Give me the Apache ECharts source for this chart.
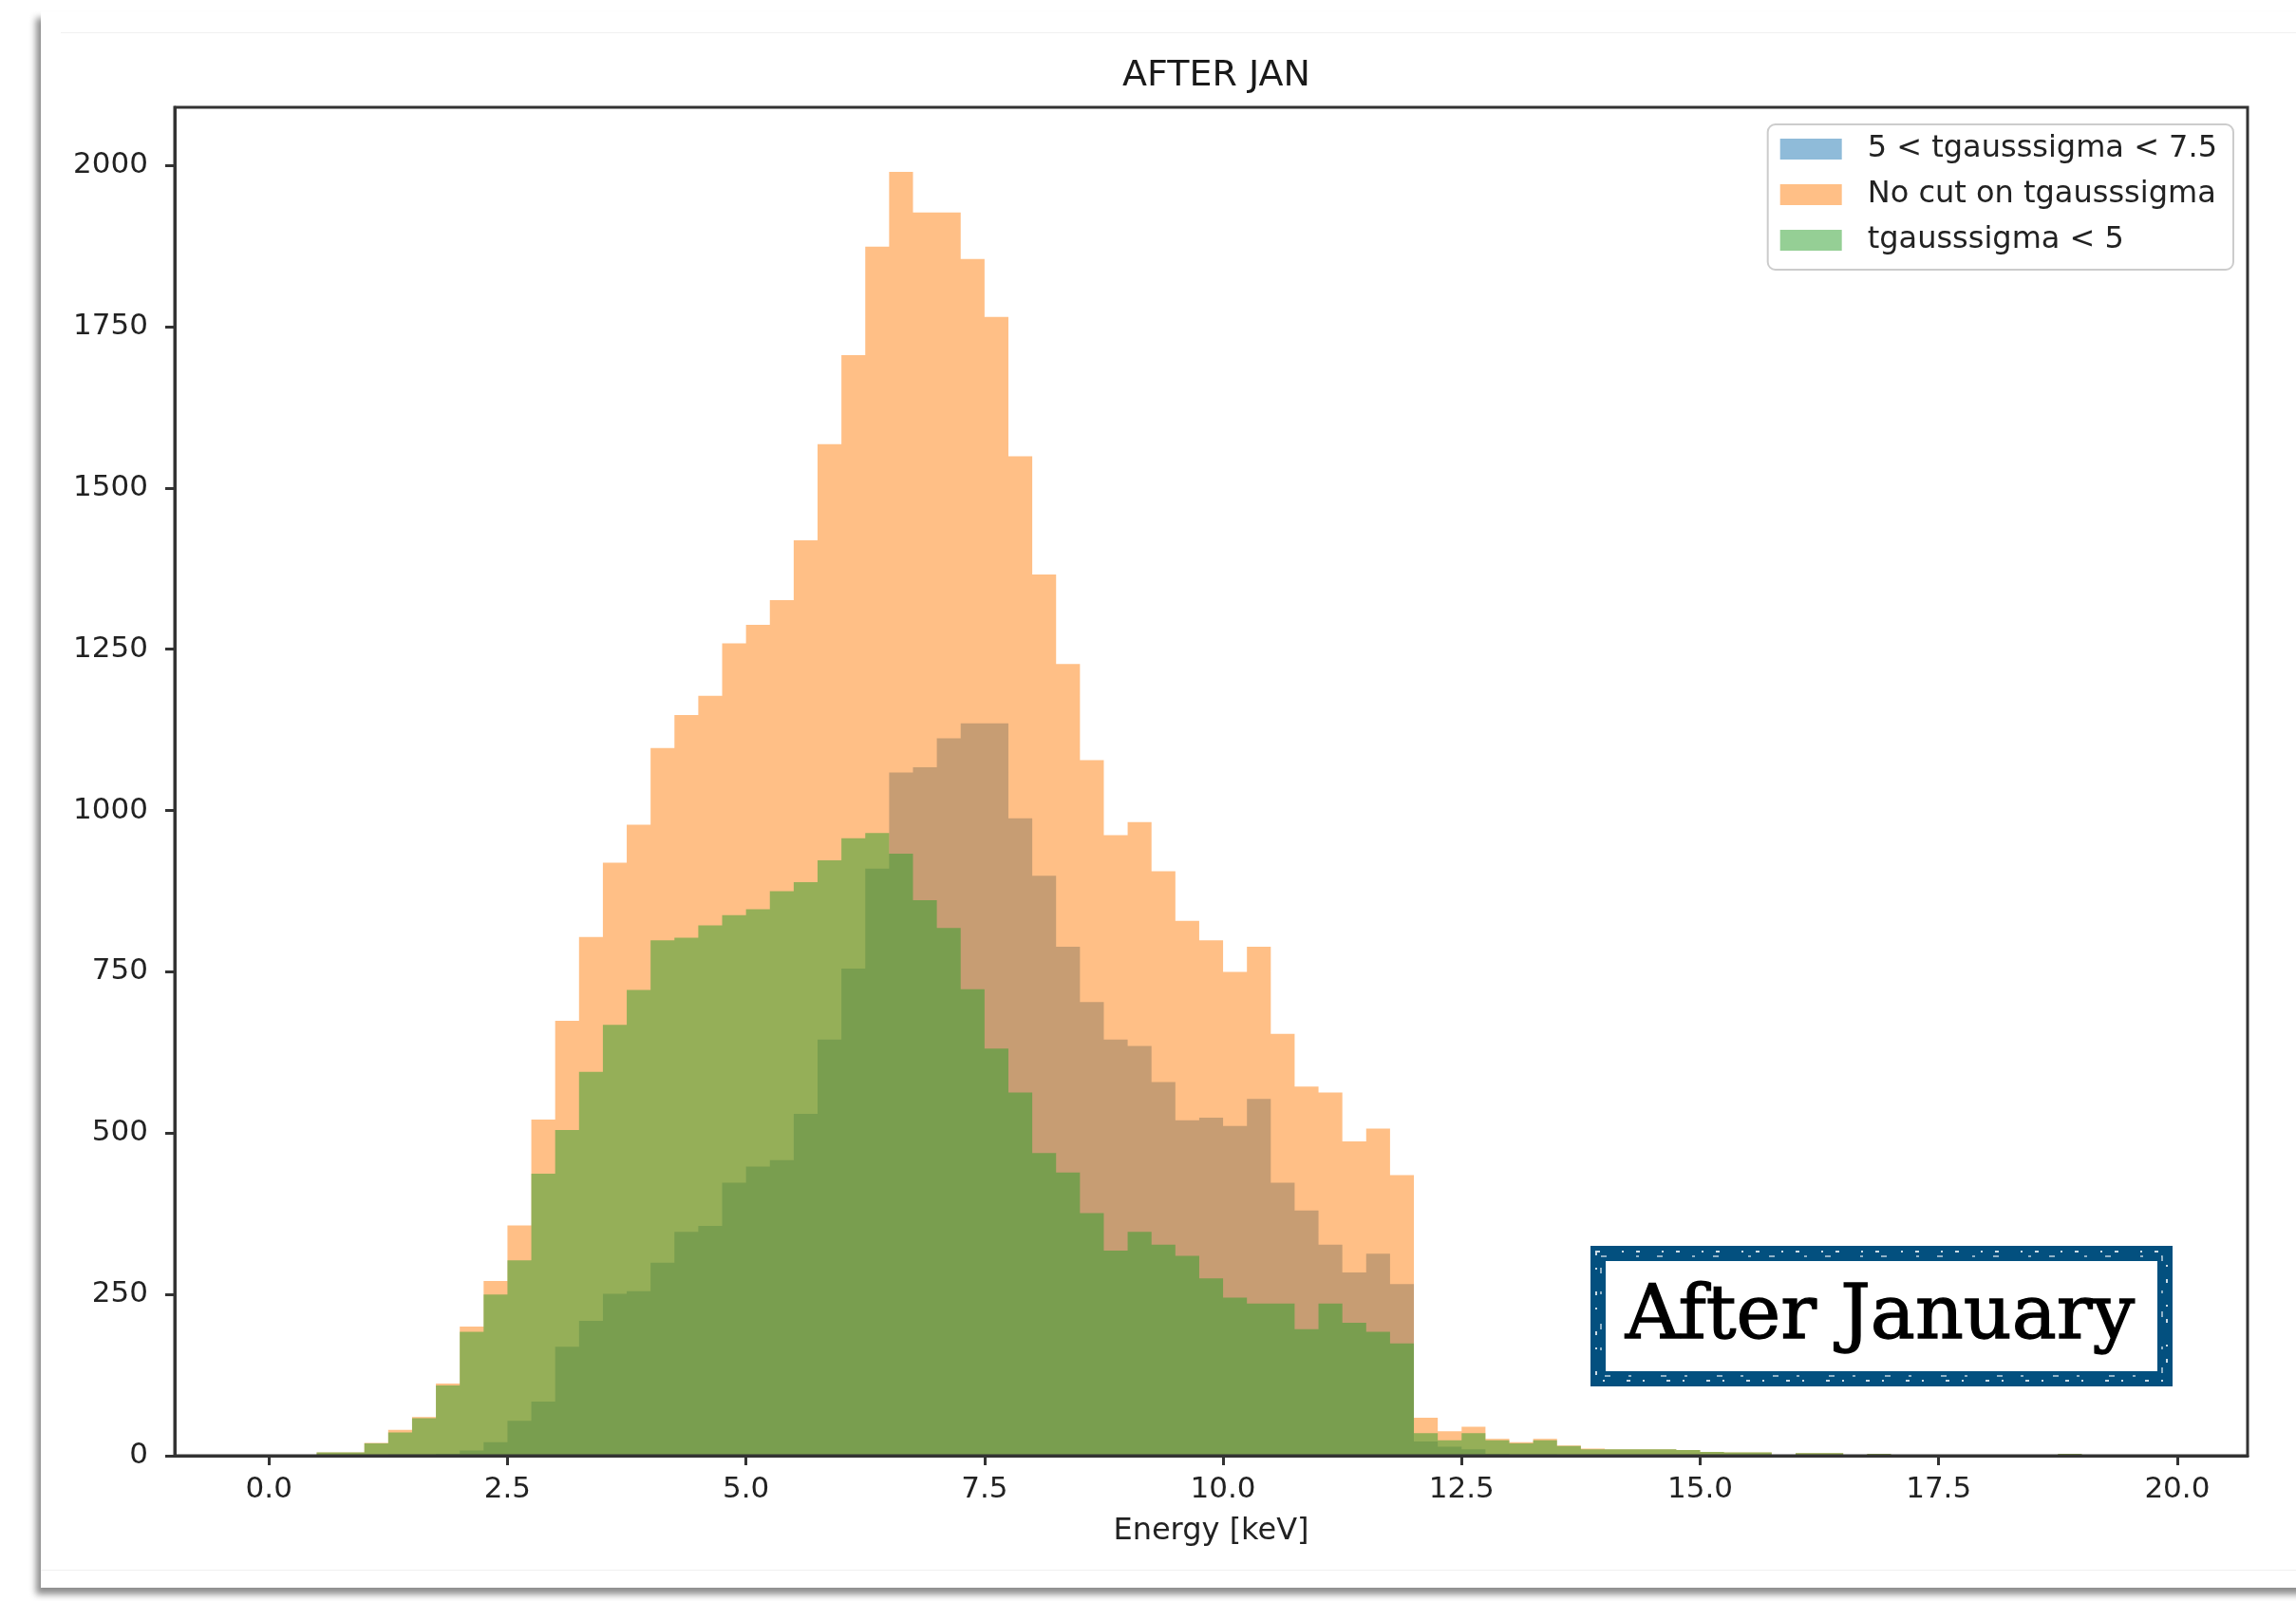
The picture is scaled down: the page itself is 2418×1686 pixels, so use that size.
<!DOCTYPE html>
<html>
<head>
<meta charset="utf-8">
<script src="https://cdn.jsdelivr.net/npm/echarts@6/dist/echarts.min.js"></script>
<style>
  html, body { margin: 0; padding: 0; background: #ffffff; }
  #frame { position: absolute; left: 43px; top: 12px; width: 2400px; height: 1660px; background: #ffffff;
           box-shadow: -5px 7px 7px rgba(0,0,0,0.45); }
  #topline { position: absolute; left: 64px; top: 34px; width: 2354px; height: 1px; background: #f0f0f0; }
  #botline { position: absolute; left: 43px; top: 1653px; width: 2375px; height: 1px; background: #f0f0f0; }
  #chart { position: absolute; left: 0; top: 0; width: 2418px; height: 1686px; }
</style>
</head>
<body>
<div id="frame"></div>
<div id="topline"></div>
<div id="botline"></div>
<div id="chart"></div>
<script>
// Lower edges of the 0.25 keV bins (keV)
const binLeft = [0, 0.25, 0.5, 0.75, 1, 1.25, 1.5, 1.75, 2, 2.25, 2.5, 2.75, 3, 3.25, 3.5, 3.75,
  4, 4.25, 4.5, 4.75, 5, 5.25, 5.5, 5.75, 6, 6.25, 6.5, 6.75, 7, 7.25, 7.5, 7.75,
  8, 8.25, 8.5, 8.75, 9, 9.25, 9.5, 9.75, 10, 10.25, 10.5, 10.75, 11, 11.25, 11.5, 11.75,
  12, 12.25, 12.5, 12.75, 13, 13.25, 13.5, 13.75, 14, 14.25, 14.5, 14.75, 15, 15.25, 15.5, 15.75,
  16, 16.25, 16.5, 16.75, 17, 17.25, 17.5, 17.75, 18, 18.25, 18.5, 18.75, 19, 19.25, 19.5];
const binWidth = 0.25;

// 5 < tgausssigma < 7.5
const midSigma = [0, 0, 0, 0, 1, 2, 2, 3, 8, 21, 54, 84, 169, 209, 251, 255,
  299, 347, 356, 423, 448, 458, 530, 645, 755, 910, 1059, 1067, 1112, 1135, 1135, 988,
  899, 789, 703, 645, 635, 579, 520, 524, 511, 553, 423, 380, 327, 284, 313, 266,
  22, 14, 10, 3, 2, 2, 1, 1, 0, 0, 0, 0, 0, 0, 0, 0,
  0, 0, 0, 0, 0, 0, 0, 0, 0, 0, 0, 0, 0, 0, 0];
// No cut on tgausssigma
const noCut = [0, 0, 5, 5, 20, 40, 60, 112, 200, 271, 357, 521, 674, 804, 919, 978,
  1097, 1148, 1178, 1259, 1288, 1326, 1419, 1568, 1706, 1874, 1990, 1927, 1927, 1855, 1765, 1549,
  1366, 1227, 1078, 962, 982, 906, 829, 799, 750, 789, 654, 572, 563, 487, 507, 435,
  59, 38, 45, 26, 21, 26, 16, 11, 10, 10, 10, 9, 6, 5, 5, 0,
  4, 4, 0, 3, 0, 0, 0, 0, 0, 0, 0, 3, 0, 0, 0];
// tgausssigma < 5
const lowSigma = [0, 0, 5, 5, 19, 36, 58, 109, 192, 250, 303, 437, 505, 595, 668, 722,
  799, 803, 822, 838, 847, 875, 889, 923, 957, 965, 933, 861, 818, 723, 631, 563,
  469, 439, 376, 318, 347, 327, 310, 275, 245, 236, 236, 196, 236, 206, 192, 174,
  35, 24, 35, 24, 19, 24, 15, 10, 10, 10, 10, 9, 6, 5, 5, 0,
  4, 4, 0, 3, 0, 0, 0, 0, 0, 0, 0, 3, 0, 0, 0];

const xTicks = [0, 2.5, 5, 7.5, 10, 12.5, 15, 17.5, 20];
const yTicks = [0, 250, 500, 750, 1000, 1250, 1500, 1750, 2000];

const seriesNames = ['5 < tgausssigma < 7.5', 'No cut on tgausssigma', 'tgausssigma < 5'];
const seriesColors = ['rgba(31,119,180,0.5)', 'rgba(255,127,14,0.5)', 'rgba(44,160,44,0.5)'];
const seriesValues = [midSigma, noCut, lowSigma];

function histSeries(name, values, color) {
  return {
    type: 'custom',
    name: name,
    coordinateSystem: 'cartesian2d',
    silent: true,
    animation: false,
    data: [[binLeft[0], 0]],
    encode: { x: 0, y: 1 },
    itemStyle: { color: color },
    renderItem: function (params, api) {
      const pts = [api.coord([binLeft[0], 0])];
      for (let i = 0; i < values.length; i++) {
        pts.push(api.coord([binLeft[i], values[i]]));
        pts.push(api.coord([binLeft[i] + binWidth, values[i]]));
      }
      pts.push(api.coord([binLeft[values.length - 1] + binWidth, 0]));
      return { type: 'polygon', shape: { points: pts }, style: { fill: color } };
    }
  };
}

const axisColor = '#333333';
const chart = echarts.init(document.getElementById('chart'), null, { renderer: 'canvas' });
chart.setOption({
  backgroundColor: 'transparent',
  animation: false,
  title: {
    text: 'AFTER JAN', left: 1276, top: 56, textAlign: 'center',
    textStyle: { fontFamily: 'DejaVu Sans', fontSize: 38, fontWeight: 'normal', color: '#1a1a1a' }
  },
  legend: {
    orient: 'vertical', right: 66, top: 131,
    data: seriesNames,
    icon: 'rect', itemWidth: 65, itemHeight: 22, itemGap: 16,
    padding: [10, 17, 15, 13],
    selectedMode: false,
    backgroundColor: 'rgba(255,255,255,0.8)', borderColor: '#cccccc', borderWidth: 2, borderRadius: 8,
    textStyle: { fontFamily: 'DejaVu Sans', fontSize: 32, color: '#222222', lineHeight: 32, padding: [0, 0, 0, 22] }
  },
  grid: { left: 184, top: 113, width: 2183, height: 1420, containLabel: false },
  xAxis: {
    type: 'value', min: -0.9875, max: 20.7375,
    name: 'Energy [keV]', nameLocation: 'middle', nameGap: 64,
    nameTextStyle: { fontFamily: 'DejaVu Sans', fontSize: 32, color: '#222222' },
    axisLine: { show: true, onZero: false, lineStyle: { color: axisColor, width: 3 } },
    axisTick: { show: true, inside: false, length: 10, lineStyle: { color: axisColor, width: 3 }, customValues: xTicks },
    axisLabel: { margin: 20, fontFamily: 'DejaVu Sans', fontSize: 31, color: '#222222', customValues: xTicks,
      formatter: function (v) { return Number(v).toFixed(1); } },
    splitLine: { show: false }
  },
  yAxis: {
    type: 'value', min: 0, max: 2090,
    axisLine: { show: true, onZero: false, lineStyle: { color: axisColor, width: 3 } },
    axisTick: { show: true, inside: false, length: 10, lineStyle: { color: axisColor, width: 3 }, customValues: yTicks },
    axisLabel: { margin: 28, fontFamily: 'DejaVu Sans', fontSize: 31, color: '#222222', customValues: yTicks,
      formatter: function (v) { return String(Math.round(Number(v))); } },
    splitLine: { show: false }
  },
  graphic: [
    { type: 'rect', silent: true, z: 100,
      shape: { x: 184, y: 113, width: 2183, height: 1420 },
      style: { fill: 'none', stroke: axisColor, lineWidth: 3 } },
    { type: 'rect', silent: true, z: 100,
      shape: { x: 1683, y: 1320, width: 597, height: 132 },
      style: { fill: '#ffffff', stroke: '#03507f', lineWidth: 16 } },
    { type: 'rect', silent: true, z: 101,
      shape: { x: 1681, y: 1318, width: 601, height: 136 },
      style: { fill: 'none', stroke: 'rgba(255,255,255,0.8)', lineWidth: 2, lineDash: [4, 23, 2, 13] } },
    { type: 'rect', silent: true, z: 101,
      shape: { x: 1686, y: 1323, width: 591, height: 126 },
      style: { fill: 'none', stroke: 'rgba(255,255,255,0.75)', lineWidth: 1.5, lineDash: [6, 31, 3, 19] } },
    { type: 'text', silent: true, z: 102, x: 1980, y: 1388,
      style: { text: 'After January', fontFamily: 'DejaVu Serif', fontSize: 79, fill: '#000000',
        stroke: '#000000', lineWidth: 1.3, align: 'center', verticalAlign: 'middle' } }
  ],
  series: seriesNames.map(function (n, i) { return histSeries(n, seriesValues[i], seriesColors[i]); })
});
</script>
</body>
</html>
